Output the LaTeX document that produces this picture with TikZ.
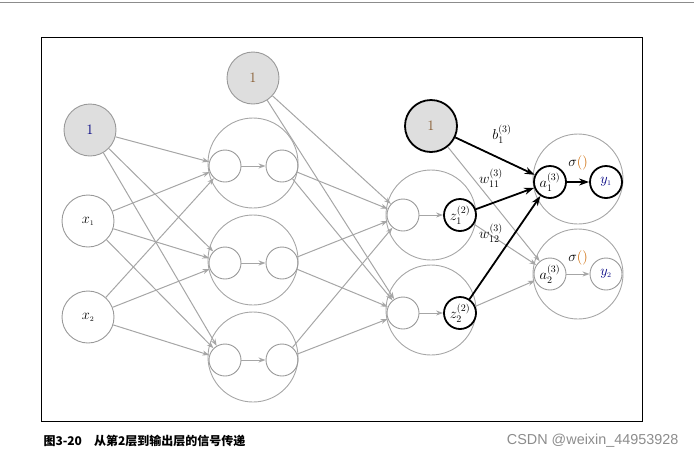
\documentclass[tikz,border=0pt]{standalone}
\usepackage{fontspec}
\newfontfamily\cjk{Noto Sans CJK SC}
\newfontfamily\wm{Liberation Sans}
\usetikzlibrary{arrows.meta}
\begin{document}
\begin{tikzpicture}[x=1pt,y=-1pt,
  big/.style={circle,draw=black!35,line width=0.9pt,minimum size=90pt,inner sep=0},
  sm/.style={circle,draw=black!40,line width=0.9pt,minimum size=32pt,inner sep=0,font=\Large},
  smb/.style={circle,draw=black,line width=1.8pt,minimum size=32pt,inner sep=0,font=\Large},
  inp/.style={circle,draw=black!40,line width=0.9pt,minimum size=52pt,inner sep=0,font=\Large},
  bias/.style={circle,draw=black!40,fill=black!13,line width=0.9pt,minimum size=52pt,inner sep=0,font=\Large},
  ga/.style={draw=black!35,line width=1pt,-{Stealth[length=7pt,width=5pt]}},
  ba/.style={draw=black,line width=1.8pt,-{Stealth[length=10pt,width=7pt]}}]
\useasboundingbox (0,0) rectangle (694,459);
\draw[black!45,line width=1pt] (0,2) -- (694,2);
\draw[black,line width=1pt] (41,37) rectangle (642,421);
% layer 0
\node[bias] (b0) at (90,130) {\color{blue!50!black}1};
\node[inp] (x1) at (88,221) {$x_{\scriptscriptstyle 1}$};
\node[inp] (x2) at (88,317) {$x_{\scriptscriptstyle 2}$};
% layer 1
\node[bias] (b1) at (253,78) {\color{brown!70!black}1};
\foreach \i/\y in {1/163,2/260,3/357}{
  \node[big] (L\i) at (253,\y) {};
  \node[sm] (l\i) at (225,\y+3) {};
  \node[sm] (r\i) at (282,\y+3) {};
  \draw[ga] (l\i) -- (r\i);
}
% layer 2
\node[bias,draw=black,line width=1.8pt] (b2) at (431,126) {\color{brown!70!black}1};
\node[big] (M1) at (431,215) {};
\node[big] (M2) at (431,310) {};
\node[sm] (m1) at (403,215) {};
\node[sm] (m2) at (403,313) {};
\node[smb] (z1) at (460,215) {$z^{(2)}_1$};
\node[smb] (z2) at (460,313) {$z^{(2)}_2$};
\draw[ga] (m1) -- (z1);
\draw[ga] (m2) -- (z2);
% layer 3
\node[big] (N1) at (578,179) {};
\node[big] (N2) at (578,274) {};
\node[smb] (a1) at (550,182) {$a^{(3)}_1$};
\node[smb] (y1) at (606,182) {\color{blue!50!black}$y_{\scriptscriptstyle 1}$};
\node[sm] (a2) at (550,274) {$a^{(3)}_2$};
\node[sm] (y2) at (606,274) {\color{blue!50!black}$y_{\scriptscriptstyle 2}$};
% gray connections
\foreach \s in {b0,x1,x2}{\foreach \t in {l1,l2,l3}{\draw[ga] (\s) -- (\t);}}
\foreach \t in {m1,m2}{\draw[ga] (b1) -- (\t);}
\foreach \s in {r1,r2,r3}{\foreach \t in {m1,m2}{\draw[ga] (\s) -- (\t);}}
\draw[ga] (b2) -- (a2);
\draw[ga] (z1) -- (a2);
\draw[ga] (z2) -- (a2);
\draw[ga] (a2) -- (y2);
% black connections
\draw[ba] (b2) -- (a1);
\draw[ba] (z1) -- (a1);
\draw[ba] (z2) -- (a1);
\draw[ba] (a1) -- (y1);
% labels
\node[font=\Large] (lb) at (502,134) {$b^{(3)}_1$};
\node[font=\Large] (lw1) at (491,178) {$w^{(3)}_{11}$};
\node[font=\Large] (lw2) at (491,233) {$w^{(3)}_{12}$};
\node[font=\Large] (s1) at (578,163) {$\sigma{\color{orange!80!black}()}$};
\node[font=\Large] (s2) at (578,258) {$\sigma{\color{orange!80!black}()}$};
% caption
\node[anchor=west,font=\cjk\bfseries\large] (cap) at (40,441) {图3-20\quad 从第2层到输出层的信号传递};
\node[anchor=east,font=\wm\Large,text=black!45] (wmk) at (682,441) {CSDN @weixin\_44953928};
\end{tikzpicture}
\end{document}
